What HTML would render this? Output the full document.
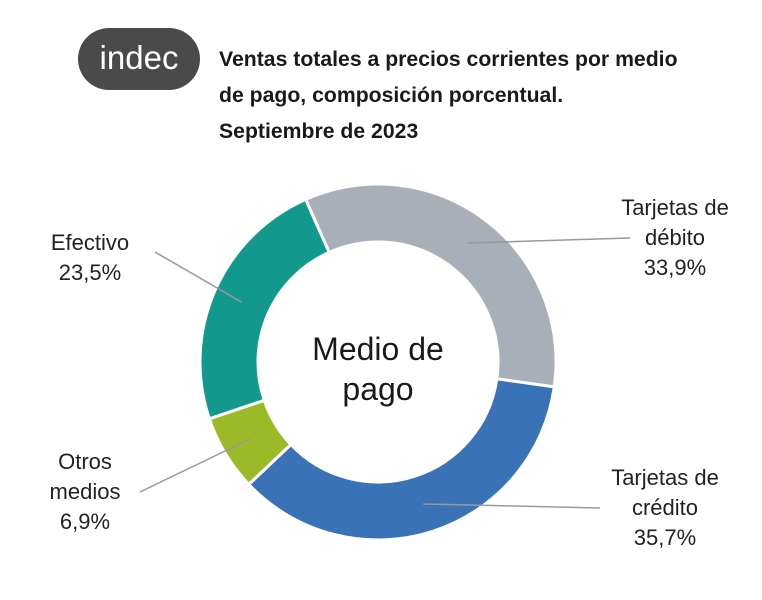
<!DOCTYPE html>
<html><head><meta charset="utf-8"><style>
body{margin:0;background:#fff;font-family:"Liberation Sans",sans-serif;}
#wrap{position:relative;width:762px;height:600px;overflow:hidden;}
.t{position:absolute;font-size:21px;font-weight:bold;color:#1a1a1a;transform:scaleX(1.01);transform-origin:left top;white-space:nowrap;}
.lab{position:absolute;font-size:22px;color:#222;text-align:center;line-height:30px;}
</style></head><body>
<div id="wrap">
<div style="position:absolute;left:78px;top:28px;width:122px;height:62px;border-radius:31px;background:#4a4a4a;color:#fff;font-size:33px;text-align:center;line-height:60px;">indec</div>
<div class="t" style="left:219px;top:42px;line-height:36px;">Ventas totales a precios corrientes por medio<br>de pago, composición porcentual.<br>Septiembre de 2023</div>
<svg id="chart" width="762" height="600" style="position:absolute;left:0;top:0"></svg>
<div class="lab" style="left:595px;top:193px;width:160px;">Tarjetas de<br>débito<br>33,9%</div>
<div class="lab" style="left:585px;top:463px;width:160px;">Tarjetas de<br>crédito<br>35,7%</div>
<div class="lab" style="left:30px;top:228px;width:120px;">Efectivo<br>23,5%</div>
<div class="lab" style="left:25px;top:447px;width:120px;">Otros<br>medios<br>6,9%</div>
</div>
<script>
const categories=["Tarjetas de débito","Tarjetas de crédito","Otros medios","Efectivo"];
const values=[33.9,35.7,6.9,23.5];
const colors=["#a9afb9","#3a72b8","#9cba27","#12988c"];
const svg=document.getElementById('chart');
const NS="http://www.w3.org/2000/svg";
const cx=378,cy=362,R=178,r=120,start=-24;
const leaders=[[630,238],[600,508],[140,492],[155,252]];
function pt(a,rad){const t=(a-90)*Math.PI/180;return [cx+rad*Math.cos(t),cy+rad*Math.sin(t)];}
const total=values.reduce((a,b)=>a+b,0);
let a0=start;
values.forEach((v,i)=>{
  const a1=a0+v/total*360;
  const p1=pt(a0,R),p2=pt(a1,R),p3=pt(a1,r),p4=pt(a0,r);
  const lg=(a1-a0)>180?1:0;
  const p=document.createElementNS(NS,'path');
  p.setAttribute('d',`M${p1[0]},${p1[1]}A${R},${R} 0 ${lg} 1 ${p2[0]},${p2[1]}L${p3[0]},${p3[1]}A${r},${r} 0 ${lg} 0 ${p4[0]},${p4[1]}Z`);
  p.setAttribute('fill',colors[i]);p.setAttribute('stroke','#fff');p.setAttribute('stroke-width','3');
  
  
  svg.appendChild(p);
  const m=pt((a0+a1)/2,(R+r)/2);
  const l=document.createElementNS(NS,'line');
  l.setAttribute('x1',m[0]);l.setAttribute('y1',m[1]);l.setAttribute('x2',leaders[i][0]);l.setAttribute('y2',leaders[i][1]);
  l.setAttribute('stroke','#999');l.setAttribute('stroke-width','1.5');
  
  
  svg.appendChild(l);
  a0=a1;
});
['Medio de','pago'].forEach((s,i)=>{
  const t=document.createElementNS(NS,'text');
  t.setAttribute('x',cx);t.setAttribute('y',360+i*40);t.setAttribute('text-anchor','middle');
  t.setAttribute('font-size','32');t.setAttribute('fill','#1a1a1a');t.setAttribute('font-family','Liberation Sans, sans-serif');
  t.textContent=s;
  
  
  svg.appendChild(t);
});
</script>
</body></html>
